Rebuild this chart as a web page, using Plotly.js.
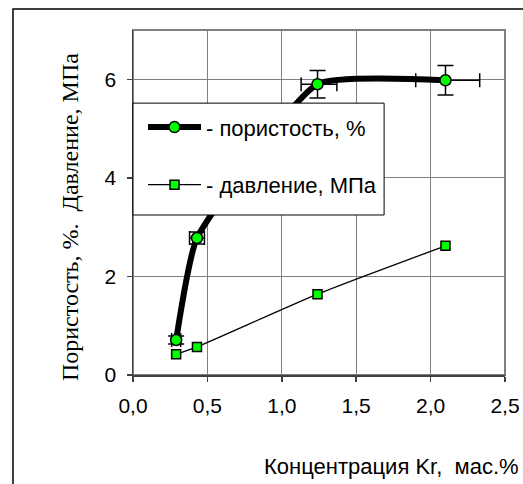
<!DOCTYPE html>
<html>
<head>
<meta charset="utf-8">
<script src="https://cdn.plot.ly/plotly-3.0.1.min.js"></script>
<style>html,body{margin:0;padding:0;background:#fff;}#chart{width:523px;height:484px;}</style>
</head>
<body>
<div id="chart"></div>
<script>
// Data
var concentration = [0.29, 0.43, 1.24, 2.10];           // Концентрация Kr, мас.%
var porosity      = [0.71, 2.78, 5.90, 5.98];           // пористость, %
var porosityErrY  = [0.08, 0.12, 0.28, 0.30];
var porosityErrXPlus  = [0.03, 0.05, 0.13, 0.23];
var porosityErrXMinus = [0.03, 0.05, 0.11, 0.20];
var pressure      = [0.42, 0.57, 1.64, 2.62];           // давление, МПа
var xTicks = [0, 0.5, 1.0, 1.5, 2.0, 2.5];
var yTicks = [0, 2, 4, 6];

var sans = 'Liberation Sans, Arial, sans-serif';
var serif = 'Liberation Serif, Times New Roman, serif';

var tracePressure = {
  x: concentration, y: pressure, type: 'scatter', mode: 'lines+markers',
  name: '- давление, МПа', legendgroup: 'b',
  line: {color: '#000', width: 1.3, shape: 'spline', smoothing: 0.6},
  marker: {symbol: 'square', size: 9, color: '#00ff00', line: {color: '#000', width: 1.5}},
  cliponaxis: false
};
var tracePorosity = {
  x: concentration, y: porosity, type: 'scatter', mode: 'lines+markers',
  name: '- пористость, %', legendgroup: 'a',
  line: {color: '#000', width: 6, shape: 'spline', smoothing: 0.45},
  marker: {symbol: 'circle', size: 11, color: '#00ff00', line: {color: '#000', width: 1.5}},
  error_y: {type: 'data', array: porosityErrY, visible: true, color: '#000', thickness: 1.5, width: 8},
  error_x: {type: 'data', array: porosityErrXPlus, arrayminus: porosityErrXMinus, symmetric: false, visible: true, color: '#000', thickness: 1.5, width: 7},
  cliponaxis: false
};

var layout = {
  width: 523, height: 484,
  margin: {l: 133, r: 18, t: 30, b: 109},
  paper_bgcolor: '#fff', plot_bgcolor: '#fff',
  separators: ', ',
  showlegend: true,
  font: {family: sans, color: '#000', size: 20},
  xaxis: {
    range: [0, 2.5], tickvals: xTicks, tickformat: '.1f',
    showgrid: true, gridcolor: '#808080', gridwidth: 1,
    showline: true, linecolor: '#404040', linewidth: 1.5,
    ticks: 'outside', ticklen: 5, tickcolor: '#404040', tickwidth: 1.5,
    tickfont: {family: sans, size: 21, color: '#000'},
    ticklabelstandoff: 6,
    zeroline: false, fixedrange: true
  },
  yaxis: {
    range: [0, 7], tickvals: yTicks,
    showgrid: true, gridcolor: '#808080', gridwidth: 1,
    showline: true, linecolor: '#404040', linewidth: 1.5,
    ticks: 'outside', ticklen: 5, tickcolor: '#404040', tickwidth: 1.5,
    tickfont: {family: sans, size: 21, color: '#000'},
    ticklabelstandoff: 6,
    zeroline: false, fixedrange: true
  },
  legend: {
    x: 0, y: 0.779, xanchor: 'left', yanchor: 'top',
    bgcolor: 'rgba(0,0,0,0)', borderwidth: 0,
    font: {family: sans, size: 22, color: '#000'},
    traceorder: 'grouped', tracegroupgap: 26, itemwidth: 53, indentation: 10
  },
  shapes: [
    {type: 'rect', xref: 'paper', yref: 'paper', x0: 0, x1: 1, y0: 0, y1: 1,
     line: {color: '#808080', width: 2}, layer: 'below'},
    {type: 'rect', xref: 'paper', yref: 'paper', x0: -0.3226, x1: 1.2, y0: -0.5, y1: 1.0609,
     line: {color: '#000', width: 1.5}, fillcolor: 'rgba(0,0,0,0)'},
    // legend box
    {type: 'rect', xref: 'paper', yref: 'paper', x0: 0, x1: 0.675, y0: 0.4638, y1: 0.788,
     line: {color: '#000', width: 1}, fillcolor: '#fff', layer: 'above'}
  ],
  annotations: [
    {text: 'Концентрация Kr,\u00a0\u00a0мас.%', xref: 'paper', yref: 'paper',
     x: 1.043, y: -0.264, xanchor: 'right', yanchor: 'middle', showarrow: false,
     font: {family: sans, size: 22, color: '#000'}},
    {text: 'Пористость, %.\u00a0\u00a0Давление, МПа', xref: 'paper', yref: 'paper',
     x: -0.169, y: 0.458, xanchor: 'center', yanchor: 'middle', showarrow: false, textangle: -90,
     font: {family: serif, size: 24, color: '#000'}}
  ]
};

Plotly.newPlot('chart', [tracePorosity, tracePressure], layout, {displayModeBar: false, staticPlot: true});
</script>
</body>
</html>
